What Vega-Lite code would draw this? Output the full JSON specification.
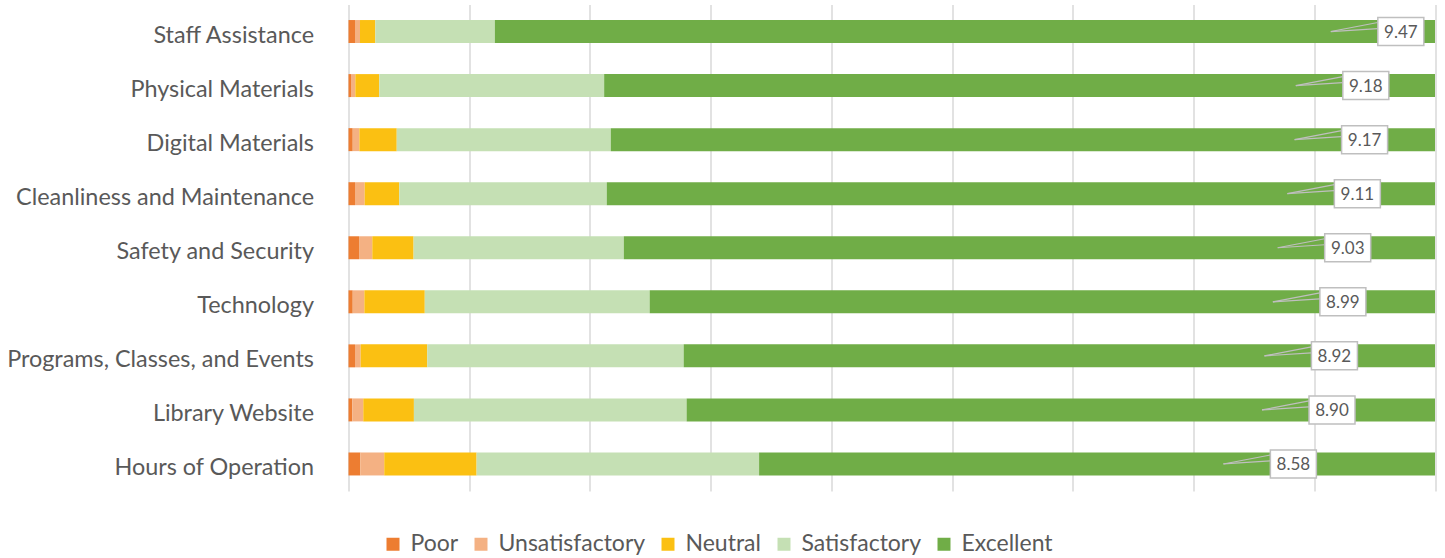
{
  "$schema": "https://vega.github.io/schema/vega-lite/v6.json",
  "width": 1086.5,
  "height": 486.5,
  "autosize": {"type": "none"},
  "padding": {"left": 348.5, "top": 4.5, "right": 10, "bottom": 67},
  "config": {"view": {"stroke": null}, "font": "Lato"},
  "datasets": {
    "ratings": [
      {"item": "Staff Assistance", "rating": "Poor", "ord": 1, "pct": 0.6},
      {"item": "Staff Assistance", "rating": "Unsatisfactory", "ord": 2, "pct": 0.46},
      {"item": "Staff Assistance", "rating": "Neutral", "ord": 3, "pct": 1.41},
      {"item": "Staff Assistance", "rating": "Satisfactory", "ord": 4, "pct": 11.0},
      {"item": "Staff Assistance", "rating": "Excellent", "ord": 5, "pct": 86.53},
      {"item": "Physical Materials", "rating": "Poor", "ord": 1, "pct": 0.23},
      {"item": "Physical Materials", "rating": "Unsatisfactory", "ord": 2, "pct": 0.4},
      {"item": "Physical Materials", "rating": "Neutral", "ord": 3, "pct": 2.2},
      {"item": "Physical Materials", "rating": "Satisfactory", "ord": 4, "pct": 20.7},
      {"item": "Physical Materials", "rating": "Excellent", "ord": 5, "pct": 76.47},
      {"item": "Digital Materials", "rating": "Poor", "ord": 1, "pct": 0.39},
      {"item": "Digital Materials", "rating": "Unsatisfactory", "ord": 2, "pct": 0.61},
      {"item": "Digital Materials", "rating": "Neutral", "ord": 3, "pct": 3.44},
      {"item": "Digital Materials", "rating": "Satisfactory", "ord": 4, "pct": 19.7},
      {"item": "Digital Materials", "rating": "Excellent", "ord": 5, "pct": 75.86},
      {"item": "Cleanliness and Maintenance", "rating": "Poor", "ord": 1, "pct": 0.6},
      {"item": "Cleanliness and Maintenance", "rating": "Unsatisfactory", "ord": 2, "pct": 0.89},
      {"item": "Cleanliness and Maintenance", "rating": "Neutral", "ord": 3, "pct": 3.18},
      {"item": "Cleanliness and Maintenance", "rating": "Satisfactory", "ord": 4, "pct": 19.1},
      {"item": "Cleanliness and Maintenance", "rating": "Excellent", "ord": 5, "pct": 76.23},
      {"item": "Safety and Security", "rating": "Poor", "ord": 1, "pct": 0.97},
      {"item": "Safety and Security", "rating": "Unsatisfactory", "ord": 2, "pct": 1.22},
      {"item": "Safety and Security", "rating": "Neutral", "ord": 3, "pct": 3.8},
      {"item": "Safety and Security", "rating": "Satisfactory", "ord": 4, "pct": 19.35},
      {"item": "Safety and Security", "rating": "Excellent", "ord": 5, "pct": 74.66},
      {"item": "Technology", "rating": "Poor", "ord": 1, "pct": 0.39},
      {"item": "Technology", "rating": "Unsatisfactory", "ord": 2, "pct": 1.07},
      {"item": "Technology", "rating": "Neutral", "ord": 3, "pct": 5.56},
      {"item": "Technology", "rating": "Satisfactory", "ord": 4, "pct": 20.7},
      {"item": "Technology", "rating": "Excellent", "ord": 5, "pct": 72.28},
      {"item": "Programs, Classes, and Events", "rating": "Poor", "ord": 1, "pct": 0.6},
      {"item": "Programs, Classes, and Events", "rating": "Unsatisfactory", "ord": 2, "pct": 0.52},
      {"item": "Programs, Classes, and Events", "rating": "Neutral", "ord": 3, "pct": 6.13},
      {"item": "Programs, Classes, and Events", "rating": "Satisfactory", "ord": 4, "pct": 23.6},
      {"item": "Programs, Classes, and Events", "rating": "Excellent", "ord": 5, "pct": 69.15},
      {"item": "Library Website", "rating": "Poor", "ord": 1, "pct": 0.35},
      {"item": "Library Website", "rating": "Unsatisfactory", "ord": 2, "pct": 1.01},
      {"item": "Library Website", "rating": "Neutral", "ord": 3, "pct": 4.66},
      {"item": "Library Website", "rating": "Satisfactory", "ord": 4, "pct": 25.1},
      {"item": "Library Website", "rating": "Excellent", "ord": 5, "pct": 68.88},
      {"item": "Hours of Operation", "rating": "Poor", "ord": 1, "pct": 1.09},
      {"item": "Hours of Operation", "rating": "Unsatisfactory", "ord": 2, "pct": 2.2},
      {"item": "Hours of Operation", "rating": "Neutral", "ord": 3, "pct": 8.5},
      {"item": "Hours of Operation", "rating": "Satisfactory", "ord": 4, "pct": 26.0},
      {"item": "Hours of Operation", "rating": "Excellent", "ord": 5, "pct": 62.21}
    ],
    "scores": [
      {"item": "Staff Assistance", "score": 9.47},
      {"item": "Physical Materials", "score": 9.18},
      {"item": "Digital Materials", "score": 9.17},
      {"item": "Cleanliness and Maintenance", "score": 9.11},
      {"item": "Safety and Security", "score": 9.03},
      {"item": "Technology", "score": 8.99},
      {"item": "Programs, Classes, and Events", "score": 8.92},
      {"item": "Library Website", "score": 8.90},
      {"item": "Hours of Operation", "score": 8.58}
    ]
  },
  "layer": [
    {
      "data": {"name": "ratings"},
      "mark": {"type": "bar"},
      "encoding": {
        "y": {
          "field": "item",
          "type": "nominal",
          "scale": {"domain": ["Staff Assistance", "Physical Materials", "Digital Materials", "Cleanliness and Maintenance", "Safety and Security", "Technology", "Programs, Classes, and Events", "Library Website", "Hours of Operation"], "paddingInner": 0.575, "paddingOuter": 0.2875},
          "axis": {"title": null, "domain": false, "ticks": false, "labelPadding": 35, "labelOffset": 4, "labelFontSize": 23.4, "labelColor": "#595959", "labelFont": "Lato", "labelLimit": 0}
        },
        "x": {
          "field": "pct",
          "type": "quantitative",
          "stack": "normalize",
          "scale": {"domain": [0, 1]},
          "axis": {"title": null, "labels": false, "ticks": false, "domain": false, "grid": true, "gridColor": "#d9d9d9", "gridWidth": 1.5,
                   "values": [0, 0.11111, 0.22222, 0.33333, 0.44444, 0.55556, 0.66667, 0.77778, 0.88889, 1]}
        },
        "color": {
          "field": "rating",
          "type": "nominal",
          "scale": {"domain": ["Poor", "Unsatisfactory", "Neutral", "Satisfactory", "Excellent"], "range": ["#ED7D31", "#F4B183", "#FBC012", "#C5E0B4", "#70AD47"]},
          "legend": {"title": null, "orient": "none", "legendX": 33, "legendY": 528, "direction": "horizontal", "symbolType": "square", "symbolSize": 169, "labelFontSize": 23, "labelColor": "#595959", "labelFont": "Lato", "columnPadding": 11, "labelOffset": 6, "symbolStrokeWidth": 0}
        },
        "order": {"field": "ord", "type": "quantitative"}
      }
    },
    {
      "data": {"name": "scores"},
      "layer": [
        {
          "mark": {"type": "rule", "color": "#bfbfbf", "strokeWidth": 1.2, "x2Offset": 47, "y2Offset": -9},
          "encoding": {
            "y": {"field": "item", "type": "nominal"},
            "y2": {"field": "item"},
            "x": {"field": "score", "type": "quantitative", "scale": {"domain": [1.333, 10.333]}, "axis": null},
            "x2": {"field": "score"}
          }
        },
        {
          "mark": {"type": "rule", "color": "#bfbfbf", "strokeWidth": 1.2, "x2Offset": 47, "y2Offset": -3},
          "encoding": {
            "y": {"field": "item", "type": "nominal"},
            "y2": {"field": "item"},
            "x": {"field": "score", "type": "quantitative", "scale": {"domain": [1.333, 10.333]}, "axis": null},
            "x2": {"field": "score"}
          }
        },
        {
          "mark": {"type": "bar", "fill": "#ffffff", "stroke": "#bfbfbf", "strokeWidth": 1.5, "height": 28, "xOffset": 47, "x2Offset": 93},
          "encoding": {
            "y": {"field": "item", "type": "nominal"},
            "x": {"field": "score", "type": "quantitative", "scale": {"domain": [1.333, 10.333]}, "axis": null},
            "x2": {"field": "score"}
          }
        },
        {
          "mark": {"type": "text", "xOffset": 70, "yOffset": 1, "fontSize": 17, "color": "#595959", "font": "Lato", "align": "center", "baseline": "middle"},
          "encoding": {
            "y": {"field": "item", "type": "nominal"},
            "x": {"field": "score", "type": "quantitative", "scale": {"domain": [1.333, 10.333]}, "axis": null},
            "text": {"field": "score", "type": "quantitative", "format": ".2f"}
          }
        }
      ],
      "resolve": {"scale": {"x": "shared"}}
    }
  ],
  "resolve": {"scale": {"x": "independent"}}
}
